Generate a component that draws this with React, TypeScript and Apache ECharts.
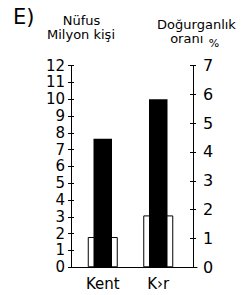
import React, { useEffect, useRef } from "react";
import * as echarts from "echarts";

const categories = ["Kent", "K›r"];
// black bars: Nüfus (Milyon kişi), left axis
const populationMillions = [7.65, 10.0];
// white bars: Doğurganlık oranı (%), right axis
const fertilityRate = [1.05, 1.8];
const leftMax = 12;
const rightMax = 7;

const FONT = "DejaVu Sans";

export default function App() {
  const ref = useRef<HTMLDivElement>(null);
  useEffect(() => {
    document.body.style.margin = "0";
    const chart = echarts.init(ref.current!, null, { renderer: "svg" });
    const black = "#000";
    const txt = (text: string, x: number, y: number, size: number, align = "center") => ({
      type: "text", x, y,
      style: { text, font: `${size}px '${FONT}'`, fill: black, textAlign: align, textVerticalAlign: "middle" },
    });
    chart.setOption({
      animation: false,
      textStyle: { fontFamily: FONT, color: black },
      graphic: [
        txt("E)", 13, 16.5, 21, "left"),
        txt("Nüfus", 81.5, 20.3, 13),
        txt("Milyon kişi", 81, 34, 13),
        txt("Doğurganlık", 196.5, 24.2, 13),
        txt("oranı", 186.7, 38, 13),
        txt("%", 214, 43.5, 11),
      ],
      grid: [
        { left: 71, right: 45, top: 65.5, bottom: 27.7 },
        { left: 75, right: 56, top: 65.5, bottom: 27.7 },
      ],
      xAxis: [
        {
          gridIndex: 0, type: "category", data: categories,
          axisLine: { show: true, lineStyle: { color: black, width: 1 } },
          axisTick: { show: false }, axisLabel: { show: false }, splitLine: { show: false },
        },
        {
          gridIndex: 1, type: "category", data: categories,
          axisLine: { show: false }, axisTick: { show: false },
          axisLabel: { color: black, fontSize: 15, fontFamily: FONT, margin: 9 },
          splitLine: { show: false },
        },
        { gridIndex: 1, type: "category", data: categories, show: false },
      ],
      yAxis: [
        {
          gridIndex: 0, type: "value", position: "left", min: 0, max: leftMax, interval: 1,
          axisLine: { show: true, lineStyle: { color: black, width: 1 } },
          axisTick: { show: true, length: 3, lineStyle: { color: black } },
          axisLabel: { color: black, fontSize: 15, lineHeight: 15, fontFamily: FONT, margin: 6 },
          splitLine: { show: false },
        },
        {
          gridIndex: 0, type: "value", position: "right", offset: -4, min: 0, max: rightMax, interval: 1,
          axisLine: { show: true, lineStyle: { color: black, width: 1 } },
          axisTick: { show: true, length: 3, lineStyle: { color: black } },
          axisLabel: { color: black, fontSize: 16, fontFamily: FONT, margin: 10 },
          splitLine: { show: false },
        },
        {
          gridIndex: 1, type: "value", position: "left", offset: 4, min: 0, max: leftMax, interval: 1,
          axisLine: { show: false },
          axisTick: { show: true, inside: true, length: 3, lineStyle: { color: black } },
          axisLabel: { show: false }, splitLine: { show: false },
        },
        {
          gridIndex: 1, type: "value", position: "right", offset: 7, min: 0, max: rightMax, interval: 1,
          axisLine: { show: false },
          axisTick: { show: true, inside: true, length: 3, lineStyle: { color: black } },
          axisLabel: { show: false }, splitLine: { show: false },
        },
      ],
      series: [
        {
          name: "Doğurganlık oranı", type: "bar", xAxisIndex: 1, yAxisIndex: 3,
          data: fertilityRate, barWidth: 30,
          itemStyle: { color: "#fff", borderColor: black, borderWidth: 1 },
        },
        {
          name: "Nüfus", type: "bar", xAxisIndex: 2, yAxisIndex: 2,
          data: populationMillions, barWidth: 18.5,
          itemStyle: { color: black },
        },
      ],
    });
    return () => chart.dispose();
  }, []);
  return <div ref={ref} style={{ width: 242, height: 295 }} />;
}
